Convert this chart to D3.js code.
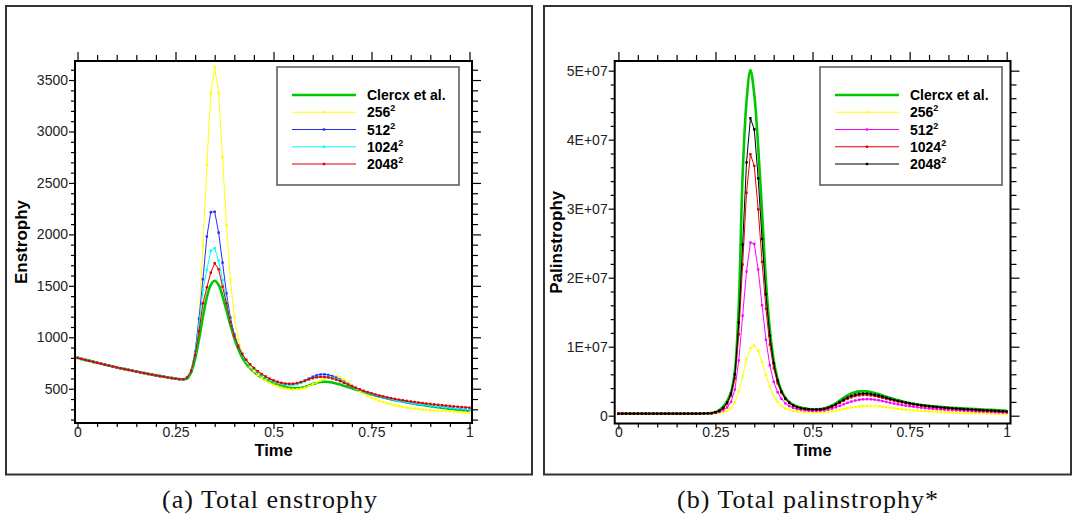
<!DOCTYPE html>
<html>
<head>
<meta charset="utf-8">
<script src="https://cdn.jsdelivr.net/npm/d3@7"></script>
<style>
  body { margin: 0; background: #fff; }
  svg { display: block; }
  text { font-family: "Liberation Sans", Arial, sans-serif; }
</style>
</head>
<body>
<div id="chart"></div>
<script>
// sample times (every 0.01)
const times = [
  0,0.01,0.02,0.03,0.04,0.05,0.06,0.07,0.08,0.09,
  0.1,0.11,0.12,0.13,0.14,0.15,0.16,0.17,0.18,0.19,
  0.2,0.21,0.22,0.23,0.24,0.25,0.26,0.27,0.28,0.29,
  0.3,0.31,0.32,0.33,0.34,0.35,0.36,0.37,0.38,0.39,
  0.4,0.41,0.42,0.43,0.44,0.45,0.46,0.47,0.48,0.49,
  0.5,0.51,0.52,0.53,0.54,0.55,0.56,0.57,0.58,0.59,
  0.6,0.61,0.62,0.63,0.64,0.65,0.66,0.67,0.68,0.69,
  0.7,0.71,0.72,0.73,0.74,0.75,0.76,0.77,0.78,0.79,
  0.8,0.81,0.82,0.83,0.84,0.85,0.86,0.87,0.88,0.89,
  0.9,0.91,0.92,0.93,0.94,0.95,0.96,0.97,0.98,0.99,1
];

// ---- (a) enstrophy ----
const enstClercx = [
  800,790,780,771,761,752,743,734,725,716,
  707,699,691,683,675,667,659,652,644,637,
  630,623,617,610,604,598,593,592,600,660,
  790,980,1200,1390,1510,1550,1510,1400,1260,1120,
  990,885,805,745,700,665,635,609,587,568,
  552,538,526,516,509,505,505,509,518,531,
  545,557,565,568,566,560,551,540,528,516,
  504,492,480,468,457,446,436,426,417,408,
  399,391,383,375,368,361,354,348,342,336,
  330,325,320,315,310,305,301,297,293,289,286
];
const enst256 = [
  800,790,780,771,761,752,743,734,725,716,
  707,699,691,683,675,667,659,652,644,637,
  630,623,617,610,604,598,593,592,612,690,
  850,1200,1888,2676,3374,3627,3374,2751,2092,1560,
  1200,980,850,770,710,670,635,605,580,558,
  540,525,512,502,495,492,494,500,510,525,
  543,562,580,598,612,620,622,610,590,563,
  533,503,476,452,431,412,396,382,369,358,
  348,339,331,324,317,311,306,302,298,295,
  292,289,286,284,282,279,277,274,272,269,267
];
const enst512 = [
  800,790,780,771,761,752,743,734,725,716,
  707,699,691,683,675,667,659,652,644,637,
  630,623,617,610,604,598,593,592,612,680,
  860,1180,1564,1979,2216,2220,2017,1726,1428,1190,
  1030,920,840,780,735,700,668,640,615,594,
  576,562,551,543,539,540,547,560,578,598,
  617,631,639,640,634,623,607,588,567,546,
  526,508,491,476,462,449,437,426,416,406,
  397,389,381,374,367,361,355,349,344,339,
  334,329,324,320,316,312,308,304,300,297,294
];
const enst1024 = [
  800,790,780,771,761,752,743,734,725,716,
  707,699,691,683,675,667,659,652,644,637,
  630,623,617,610,604,598,593,592,612,675,
  850,1120,1460,1655,1840,1866,1745,1557,1350,1160,
  1010,905,830,775,730,695,664,637,613,592,
  575,561,550,542,538,539,545,556,571,588,
  603,614,620,621,616,607,594,578,561,543,
  525,508,492,477,463,450,438,427,417,407,
  398,390,382,375,368,362,356,350,345,340,
  335,330,326,322,318,314,310,306,303,300,297
];
const enst2048 = [
  800,790,780,771,761,752,743,734,725,716,
  707,699,691,683,675,667,659,652,644,637,
  630,623,617,610,604,598,593,592,610,670,
  830,1060,1330,1486,1628,1720,1661,1492,1331,1150,
  1010,905,835,782,738,702,670,642,618,598,
  581,568,558,551,548,549,555,565,578,592,
  603,611,615,614,609,600,588,574,558,541,
  525,509,494,480,467,455,444,434,425,416,
  408,401,394,388,382,376,371,366,361,356,
  352,348,344,340,336,332,328,325,322,319,316
];

// ---- (b) palinstrophy, in millions ----
const palClercx = [
  0.3,0.3,0.3,0.3,0.3,0.3,0.3,0.3,0.3,0.3,
  0.3,0.3,0.3,0.3,0.3,0.3,0.3,0.3,0.3,0.3,
  0.3,0.31,0.32,0.34,0.37,0.55,0.8,1.3,2.1,3.4,
  6.5,16,35,45.5,50.1,46.5,39,29.5,19.5,12.5,
  8,5.3,3.6,2.6,2,1.6,1.35,1.18,1.06,0.98,
  0.94,0.93,0.96,1.05,1.22,1.48,1.8,2.18,2.58,2.94,
  3.22,3.41,3.52,3.55,3.52,3.43,3.3,3.13,2.94,2.75,
  2.56,2.39,2.23,2.08,1.95,1.83,1.72,1.63,1.55,1.48,
  1.42,1.36,1.31,1.26,1.22,1.18,1.14,1.11,1.08,1.05,
  1.02,0.99,0.96,0.93,0.9,0.87,0.84,0.81,0.78,0.75,0.72
];
const pal256 = [
  0.3,0.3,0.3,0.3,0.3,0.3,0.3,0.3,0.3,0.3,
  0.3,0.3,0.3,0.3,0.3,0.3,0.3,0.3,0.3,0.3,
  0.3,0.31,0.32,0.34,0.37,0.35,0.4,0.5,0.7,1.1,
  1.9,3.5,5.8,8.2,9.8,10.2,9.4,7.8,5.9,4.2,
  2.9,2,1.4,1.05,0.85,0.7,0.6,0.54,0.5,0.48,
  0.47,0.47,0.48,0.51,0.56,0.63,0.72,0.83,0.95,1.07,
  1.18,1.27,1.34,1.39,1.41,1.41,1.39,1.35,1.29,1.22,
  1.15,1.07,1,0.93,0.87,0.82,0.77,0.72,0.68,0.64,
  0.61,0.58,0.55,0.53,0.51,0.49,0.47,0.45,0.43,0.41,
  0.39,0.37,0.36,0.34,0.33,0.31,0.3,0.29,0.27,0.26,0.25
];
const pal512 = [
  0.3,0.3,0.3,0.3,0.3,0.3,0.3,0.3,0.3,0.3,
  0.3,0.3,0.3,0.3,0.3,0.3,0.3,0.3,0.3,0.3,
  0.3,0.31,0.32,0.34,0.37,0.42,0.55,0.8,1.2,2,
  3.8,8,14.5,20.9,25.1,24.9,21.2,16,11,7.3,
  4.9,3.4,2.45,1.8,1.4,1.14,0.97,0.86,0.78,0.73,
  0.7,0.7,0.72,0.78,0.88,1.03,1.22,1.43,1.65,1.86,
  2.05,2.2,2.31,2.38,2.4,2.38,2.32,2.23,2.12,2,
  1.88,1.76,1.65,1.55,1.46,1.38,1.3,1.23,1.16,1.1,
  1.05,1,0.96,0.92,0.88,0.85,0.82,0.79,0.76,0.73,
  0.7,0.67,0.64,0.61,0.59,0.56,0.54,0.51,0.49,0.46,0.44
];
const pal1024 = [
  0.3,0.3,0.3,0.3,0.3,0.3,0.3,0.3,0.3,0.3,
  0.3,0.3,0.3,0.3,0.3,0.3,0.3,0.3,0.3,0.3,
  0.3,0.31,0.32,0.34,0.37,0.48,0.68,1.05,1.7,2.9,
  5.4,11.8,21.9,32.3,37.9,36.2,29.9,22.3,15.5,10.3,
  6.9,4.7,3.3,2.4,1.82,1.45,1.22,1.07,0.98,0.92,
  0.88,0.88,0.91,0.98,1.11,1.31,1.56,1.85,2.15,2.44,
  2.67,2.84,2.95,3,3,2.95,2.86,2.74,2.6,2.46,
  2.32,2.18,2.05,1.93,1.82,1.72,1.62,1.54,1.46,1.39,
  1.33,1.27,1.21,1.16,1.11,1.07,1.03,0.99,0.95,0.92,
  0.88,0.85,0.82,0.79,0.76,0.73,0.7,0.67,0.64,0.61,0.58
];
const pal2048 = [
  0.3,0.3,0.3,0.3,0.3,0.3,0.3,0.3,0.3,0.3,
  0.3,0.3,0.3,0.3,0.3,0.3,0.3,0.3,0.3,0.3,
  0.3,0.31,0.32,0.34,0.37,0.5,0.72,1.15,1.9,3.2,
  6,13.5,24.8,36.7,43.1,41.5,34.4,25.6,17.6,11.6,
  7.6,5.1,3.5,2.5,1.9,1.5,1.26,1.1,1,0.94,
  0.9,0.9,0.93,1.01,1.16,1.38,1.66,1.98,2.32,2.63,
  2.88,3.06,3.17,3.22,3.21,3.15,3.05,2.92,2.77,2.61,
  2.45,2.3,2.16,2.03,1.91,1.8,1.7,1.61,1.53,1.46,
  1.39,1.33,1.27,1.22,1.17,1.12,1.08,1.04,1,0.96,
  0.93,0.9,0.86,0.83,0.8,0.77,0.74,0.71,0.68,0.65,0.62
];

// ticks and labels
const xMajor = [0, 0.25, 0.5, 0.75, 1];
const xMajorLabels = ["0", "0.25", "0.5", "0.75", "1"];
const xMinor = [0.05,0.1,0.15,0.2,0.3,0.35,0.4,0.45,0.55,0.6,0.65,0.7,0.8,0.85,0.9,0.95];
const enstMajor = [500, 1000, 1500, 2000, 2500, 3000, 3500];
const enstMajorLabels = ["500", "1000", "1500", "2000", "2500", "3000", "3500"];
const enstMinor = [200,300,400,600,700,800,900,1100,1200,1300,1400,1600,1700,1800,1900,
  2100,2200,2300,2400,2600,2700,2800,2900,3100,3200,3300,3400,3600];
const palMajor = [0, 10, 20, 30, 40, 50];
const palMajorLabels = ["0", "1E+07", "2E+07", "3E+07", "4E+07", "5E+07"];
const palMinor = [2,4,6,8,12,14,16,18,22,24,26,28,32,34,36,38,42,44,46,48];

const enstSeries = [
  { name: "Clercx et al.", sup: "", values: enstClercx, color: "#00c800", width: 2.6, markers: false },
  { name: "256", sup: "2", values: enst256, color: "#ffff00", width: 1, markers: true },
  { name: "512", sup: "2", values: enst512, color: "#2a2aff", width: 1, markers: true },
  { name: "1024", sup: "2", values: enst1024, color: "#00ffff", width: 1, markers: true },
  { name: "2048", sup: "2", values: enst2048, color: "#e00000", width: 1, markers: true }
];
const palSeries = [
  { name: "Clercx et al.", sup: "", values: palClercx, color: "#00c800", width: 2.6, markers: false },
  { name: "256", sup: "2", values: pal256, color: "#ffff00", width: 1, markers: true },
  { name: "512", sup: "2", values: pal512, color: "#ff00ff", width: 1, markers: true },
  { name: "1024", sup: "2", values: pal1024, color: "#e00000", width: 1, markers: true },
  { name: "2048", sup: "2", values: pal2048, color: "#000000", width: 1, markers: true }
];

const W = 1073, H = 527;
const svg = d3.select("#chart").append("svg")
  .attr("width", W).attr("height", H)
  .attr("viewBox", `0 0 ${W} ${H}`);
svg.append("rect").attr("width", W).attr("height", H).attr("fill", "#fff");

// outer frames
svg.append("rect").attr("x", 6).attr("y", 6).attr("width", 526).attr("height", 468.5)
  .attr("fill", "none").attr("stroke", "#333").attr("stroke-width", 2);
svg.append("rect").attr("x", 544).attr("y", 6).attr("width", 527).attr("height", 468.5)
  .attr("fill", "none").attr("stroke", "#333").attr("stroke-width", 2);

function drawPanel(p) {
  const g = svg.append("g");
  const x = d3.scaleLinear().domain(p.xDomain).range([p.left, p.right]);
  const y = d3.scaleLinear().domain(p.yDomain).range([p.bottom, p.top]);

  // ticks
  const tickStyle = sel => {
    sel.select(".domain").remove();
    sel.selectAll("line").attr("stroke", "#000").attr("stroke-width", 1.2);
    sel.selectAll("text").attr("fill", "#222").style("font-size", "14px");
  };
  g.append("g").attr("transform", `translate(0,${p.bottom})`)
    .call(d3.axisBottom(x).tickValues(xMajor).tickSize(6).tickPadding(-2)
      .tickFormat((d, i) => xMajorLabels[i])).call(tickStyle);
  g.append("g").attr("transform", `translate(0,${p.bottom})`)
    .call(d3.axisBottom(x).tickValues(xMinor).tickSize(4).tickFormat("")).call(tickStyle);
  g.append("g").attr("transform", `translate(0,${p.top})`)
    .call(d3.axisTop(x).tickValues(xMajor).tickSize(9).tickFormat("")).call(tickStyle);
  g.append("g").attr("transform", `translate(0,${p.top})`)
    .call(d3.axisTop(x).tickValues(xMinor).tickSize(6).tickFormat("")).call(tickStyle);
  g.append("g").attr("transform", `translate(${p.left},0)`)
    .call(d3.axisLeft(y).tickValues(p.yMajor).tickSize(6).tickPadding(1)
      .tickFormat((d, i) => p.yLabels[i])).call(tickStyle);
  g.append("g").attr("transform", `translate(${p.left},0)`)
    .call(d3.axisLeft(y).tickValues(p.yMinor).tickSize(4).tickFormat("")).call(tickStyle);
  g.append("g").attr("transform", `translate(${p.right},0)`)
    .call(d3.axisRight(y).tickValues(p.yMajor).tickSize(9).tickFormat("")).call(tickStyle);
  g.append("g").attr("transform", `translate(${p.right},0)`)
    .call(d3.axisRight(y).tickValues(p.yMinor).tickSize(6).tickFormat("")).call(tickStyle);

  // clip
  const clipId = "clip" + p.id;
  svg.append("clipPath").attr("id", clipId).append("rect")
    .attr("x", p.left).attr("y", p.top)
    .attr("width", p.right - p.left).attr("height", p.bottom - p.top);
  const plot = g.append("g").attr("clip-path", `url(#${clipId})`);

  p.order.forEach(k => {
    const s = p.series[k];
    const pts = times.map((t, i) => [t, s.values[i]]);
    const line = d3.line()
      .x(d => x(d[0])).y(d => y(d[1]))
      .curve(s.markers ? d3.curveLinear : d3.curveCatmullRom);
    plot.append("path").datum(pts)
      .attr("fill", "none").attr("stroke", s.color)
      .attr("stroke-width", s.width).attr("d", line);
    if (s.markers) {
      plot.selectAll(null).data(pts).enter().append("rect")
        .attr("x", d => x(d[0]) - 1.2).attr("y", d => y(d[1]) - 1.2)
        .attr("width", 2.4).attr("height", 2.4)
        .attr("fill", s.color);
    }
  });

  // plot frame
  g.append("rect").attr("x", p.left).attr("y", p.top)
    .attr("width", p.right - p.left).attr("height", p.bottom - p.top)
    .attr("fill", "none").attr("stroke", "#000").attr("stroke-width", 2);

  // axis titles
  g.append("text").attr("x", (p.left + p.right) / 2).attr("y", 456)
    .attr("text-anchor", "middle").style("font-size", "16.5px").style("font-weight", "bold")
    .text("Time");
  g.append("text")
    .attr("transform", `translate(${p.yTitleX},${(p.top + p.bottom) / 2}) rotate(-90)`)
    .attr("text-anchor", "middle").style("font-size", "17px").style("font-weight", "bold")
    .text(p.yTitle);

  // legend
  const lg = g.append("g");
  lg.append("rect").attr("x", p.legendX).attr("y", 67).attr("width", 182).attr("height", 118)
    .attr("fill", "#fff").attr("stroke", "#555").attr("stroke-width", 1.5);
  p.series.forEach((s, i) => {
    const ry = 95 + i * 17.25;
    lg.append("line").attr("x1", p.legendX + 15).attr("x2", p.legendX + 79)
      .attr("y1", ry).attr("y2", ry)
      .attr("stroke", s.color).attr("stroke-width", s.width);
    if (s.markers) {
      lg.append("rect").attr("x", p.legendX + 47 - 1.2).attr("y", ry - 1.2)
        .attr("width", 2.4).attr("height", 2.4).attr("fill", s.color);
    }
    const t = lg.append("text").attr("x", p.legendX + 90).attr("y", ry + 5)
      .style("font-size", "14px").style("font-weight", "bold").attr("fill", "#000");
    t.append("tspan").text(s.name);
    if (s.sup) {
      t.append("tspan").attr("dy", -6).style("font-size", "9px").text(s.sup);
    }
  });
}

drawPanel({
  id: "a", left: 75, right: 472, top: 61, bottom: 423,
  xDomain: [-0.0064, 1.0064], yDomain: [167, 3685],
  yMajor: enstMajor, yLabels: enstMajorLabels, yMinor: enstMinor,
  series: enstSeries, order: [0, 1, 2, 3, 4],
  yTitle: "Enstrophy", yTitleX: 27, legendX: 277
});
drawPanel({
  id: "b", left: 614.7, right: 1010.5, top: 61, bottom: 423.5,
  xDomain: [-0.0095, 1.0098], yDomain: [-1.13, 51.4],
  yMajor: palMajor, yLabels: palMajorLabels, yMinor: palMinor,
  series: palSeries, order: [0, 1, 2, 3, 4],
  yTitle: "Palinstrophy", yTitleX: 562, legendX: 820
});

// captions
const captions = ["(a)  Total enstrophy", "(b)  Total palinstrophy*"];
const captionX = [270, 808];
captions.forEach((c, i) => {
  svg.append("text").attr("x", captionX[i]).attr("y", 508)
    .attr("text-anchor", "middle")
    .style("font-family", "'Liberation Serif', 'Times New Roman', serif")
    .style("font-size", "26px").style("letter-spacing", "1px")
    .attr("fill", "#111").text(c);
});
</script>
</body>
</html>
